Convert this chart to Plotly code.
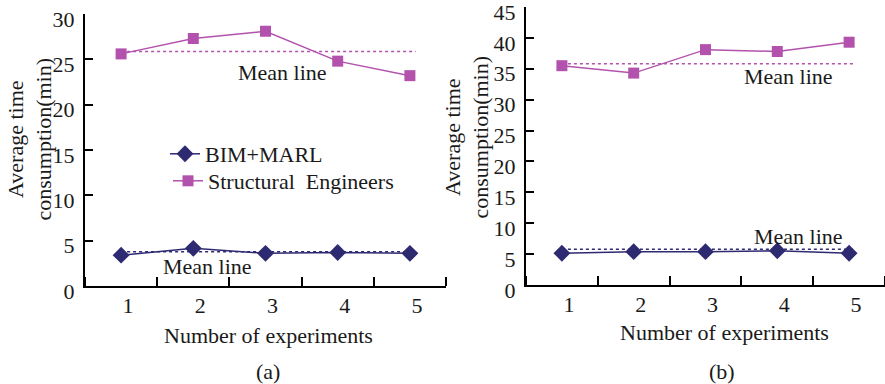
import plotly.graph_objects as go

# ---------------- data ----------------
experiments = [1, 2, 3, 4, 5]
tick_labels = ["1", "2", "3", "4", "5"]

# panel (a)
a_bim = [3.4, 4.15, 3.6, 3.7, 3.6]
a_eng = [25.6, 27.3, 28.1, 24.8, 23.2]
a_bim_mean = 3.78
a_eng_mean = 25.87

# panel (b)
b_bim = [5.15, 5.4, 5.4, 5.55, 5.15]
b_eng = [35.5, 34.3, 38.1, 37.8, 39.3]
b_bim_mean = 5.78
b_eng_mean = 35.8

mean_span = [1, 5.08]

NAVY = "#2e2a72"
MAGENTA = "#b352ad"
FONT = "Liberation Serif"
TXT = "#1a1a1a"

fig = go.Figure()

def add_panel(xa, ya, bim, eng, bim_mean, eng_mean, show_legend):
    fig.add_trace(go.Scatter(
        x=experiments, y=bim, xaxis=xa, yaxis=ya, mode="lines+markers",
        name="BIM+MARL", showlegend=show_legend, legend="legend",
        line=dict(color=NAVY, width=1.5),
        marker=dict(symbol="diamond", size=13, color=NAVY)))
    fig.add_trace(go.Scatter(
        x=experiments, y=eng, xaxis=xa, yaxis=ya, mode="lines+markers",
        name="Structural  Engineers", showlegend=show_legend, legend="legend2",
        line=dict(color=MAGENTA, width=1.5),
        marker=dict(symbol="square", size=11, color=MAGENTA)))
    fig.add_trace(go.Scatter(
        x=mean_span, y=[eng_mean, eng_mean], xaxis=xa, yaxis=ya, mode="lines",
        showlegend=False, line=dict(color=MAGENTA, width=1.5, dash="dot")))
    fig.add_trace(go.Scatter(
        x=mean_span, y=[bim_mean, bim_mean], xaxis=xa, yaxis=ya, mode="lines",
        showlegend=False, line=dict(color=NAVY, width=1.5, dash="dot")))

add_panel("x", "y", a_bim, a_eng, a_bim_mean, a_eng_mean, True)
add_panel("x2", "y2", b_bim, b_eng, b_bim_mean, b_eng_mean, False)

W, H = 885, 384

def xaxis(dom, anchor):
    return dict(domain=dom, range=[0.5, 5.5], tickmode="array", tickvals=experiments,
                ticktext=tick_labels, ticks="", showline=True, linecolor="black",
                linewidth=2, showgrid=False, zeroline=False, ticklabelshift=7,
                ticklabelstandoff=-1, automargin=False, anchor=anchor,
                ticklabeloverflow="allow",
                minor=dict(tickmode="linear", tick0=0.5, dtick=1, ticks="inside",
                           ticklen=9, tickwidth=1.5, tickcolor="black", showgrid=False),
                tickfont=dict(family=FONT, size=22, color=TXT))

def yaxis(dom, rng, anchor):
    return dict(domain=dom, range=rng, dtick=5, tick0=0, ticks="inside", ticklen=8,
                tickwidth=1.5, tickcolor="black", showline=True, linecolor="black",
                linewidth=2, showgrid=False, zeroline=False, anchor=anchor,
                ticklabelstandoff=4, ticklabelshift=5, automargin=False,
                ticklabeloverflow="allow",
                tickfont=dict(family=FONT, size=22, color=TXT))

leg = dict(xanchor="left", yanchor="top", bgcolor="rgba(0,0,0,0)",
           font=dict(family=FONT, size=22, color=TXT))

fig.update_layout(
    width=W, height=H,
    margin=dict(l=0, r=0, t=0, b=0, autoexpand=False),
    paper_bgcolor="white", plot_bgcolor="white",
    font=dict(family=FONT, size=22, color=TXT),
    xaxis=xaxis([85 / W, 446 / W], "y"),
    yaxis=yaxis([(H - 286) / H, (H - 14) / H], [0, 30], "x"),
    xaxis2=xaxis([526 / W, 1.0], "y2"),
    yaxis2=yaxis([(H - 285) / H, (H - 7) / H], [0, 45], "x2"),
    legend=dict(x=165 / W, y=(H - 133) / H, **leg),
    legend2=dict(x=168 / W, y=(H - 160) / H, **leg),
)

ann = []
def t(text, x, y, xref, yref, **kw):
    ann.append(dict(text=text, x=x, y=y, xref=xref, yref=yref, showarrow=False,
                    xanchor="center", yanchor="middle",
                    font=dict(family=FONT, size=22, color=TXT), **kw))

# mean line labels
t("Mean line", 3.24, 23.5, "x", "y")
t("Mean line", 2.2, 2.2, "x", "y")
t("Mean line", 4.16, 33.7, "x2", "y2")
t("Mean line", 4.29, 7.8, "x2", "y2")

# y titles
t("Average time<br>consumption(min)", 29.5 / W, (H - 139) / H, "paper", "paper", textangle=-90)
t("Average time<br>consumption(min)", 466.5 / W, (H - 137) / H, "paper", "paper", textangle=-90)

# x titles
t("Number of experiments", 268 / W, (H - 335) / H, "paper", "paper")
t("Number of experiments", 724 / W, (H - 332) / H, "paper", "paper")

# panel captions
t("(a)", 268 / W, (H - 371) / H, "paper", "paper")
t("(b)", 722 / W, (H - 371) / H, "paper", "paper")

fig.update_layout(annotations=ann)

fig.write_html("out.html", config={"displayModeBar": False},
               post_script="document.body.style.margin='0';document.body.style.overflow='hidden';")
